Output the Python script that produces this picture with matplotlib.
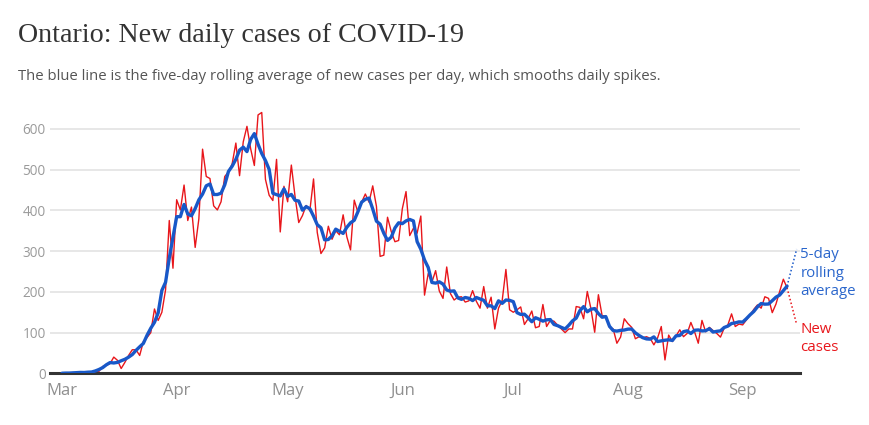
import numpy as np
import pandas as pd
import matplotlib
matplotlib.use('Agg')
import matplotlib.pyplot as plt
import matplotlib.dates as mdates

# new cases reported per day in Ontario, starting 1 March 2020
march = [0, 0, 1, 2, 1, 3, 4, 2, 1, 5, 5, 17, 20, 24, 40, 32, 12, 27, 44, 58,
         58, 44, 78, 88, 100, 158, 130, 150, 205, 375, 258]
april = [426, 401, 462, 375, 408, 309, 379, 550, 483, 478, 411, 401, 421, 483, 494,
         514, 565, 485, 568, 606, 551, 510, 634, 640, 476, 437, 424, 525, 347, 459]
may = [421, 511, 434, 370, 387, 412, 399, 477, 346, 294, 308, 361, 329, 350, 340,
       389, 335, 303, 425, 395, 420, 440, 420, 460, 410, 287, 290, 383, 348, 323, 326]
june = [404, 446, 338, 356, 344, 386, 192, 245, 224, 252, 202, 184, 261, 196, 180,
        187, 188, 175, 178, 203, 177, 160, 213, 160, 187, 109, 160, 179, 255, 156]
july = [150, 156, 163, 120, 134, 153, 112, 115, 169, 115, 130, 128, 118, 109, 100,
        109, 109, 164, 162, 134, 201, 158, 101, 193, 142, 140, 113, 109, 74, 89, 134]
august = [122, 113, 85, 90, 87, 90, 86, 70, 87, 115, 33, 94, 78, 92, 107, 90,
          98, 125, 102, 74, 130, 102, 113, 105, 98, 89, 111, 119, 146, 115, 121]
september = [119, 131, 143, 157, 168, 160, 188, 184, 149, 170, 201, 231, 210]

new_cases = march + april + may + june + july + august + september
month_labels = ['Mar', 'Apr', 'May', 'Jun', 'Jul', 'Aug', 'Sep']
y_ticks = [0, 100, 200, 300, 400, 500, 600]

dates = pd.date_range('2020-03-01', periods=len(new_cases), freq='D')
cases = pd.Series(new_cases, index=dates)
# the chart's blue line: centred five-day rolling average
rolling = cases.rolling(5, center=True, min_periods=1).mean()

RED = '#e8161b'
BLUE = '#1858c8'

fig = plt.figure(figsize=(8.7, 4.25), dpi=100)
ax = fig.add_axes([50 / 870, 1 - 373.4 / 425, 750 / 870, 265 / 425])

ax.plot(dates, cases.values, color=RED, lw=1.0, zorder=3)
ax.plot(dates, rolling.values, color=BLUE, lw=2.4, zorder=4, solid_capstyle='round')

# leader lines to the labels on the right
last = dates[-1]
lead = last + pd.Timedelta(days=2.6)
ax.plot([last, lead], [rolling.values[-1], 305], color=BLUE, lw=1.1, ls=(0, (1, 1.5)), clip_on=False)
ax.plot([last, lead], [cases.values[-1], 120], color=RED, lw=1.1, ls=(0, (1, 1.5)), clip_on=False)
lab_x = last + pd.Timedelta(days=3.6)
ax.text(lab_x, 310, '5-day\nrolling\naverage', color='#2a66cc', fontsize=10.8,
        family='Open Sans', va='top', ha='left', linespacing=1.32, clip_on=False)
ax.text(lab_x, 127, 'New\ncases', color=RED, fontsize=10.8,
        family='Open Sans', va='top', ha='left', linespacing=1.32, clip_on=False)

start = dates[0]
ax.set_xlim(start - pd.Timedelta(days=3.24), start + pd.Timedelta(days=199.5))
ax.set_ylim(0, 650)
ax.set_yticks(y_ticks)
ax.set_yticklabels([str(v) for v in y_ticks], family='Open Sans', fontsize=9.8, color='#9a9a9a')
ax.set_xticks(pd.date_range('2020-03-01', periods=len(month_labels), freq='MS'))
ax.set_xticklabels(month_labels, family='Open Sans', fontsize=12, color='#8f8f8f')
ax.tick_params(axis='both', length=0)
ax.tick_params(axis='y', pad=3)
ax.tick_params(axis='x', pad=7)

ax.grid(axis='y', color='#e3e3e3', lw=1.2)
ax.set_axisbelow(True)
for side in ['top', 'right', 'left']:
    ax.spines[side].set_visible(False)
ax.spines['bottom'].set_color('#333333')
ax.spines['bottom'].set_linewidth(2.2)

fig.text(18 / 870, 1 - 42 / 425, 'Ontario: New daily cases of COVID-19', family='Liberation Serif',
         fontsize=20.2, color='#333333', va='baseline')
fig.text(18 / 870, 1 - 80 / 425,
         'The blue line is the five-day rolling average of new cases per day, which smooths daily spikes.',
         family='Open Sans', fontsize=10.7, color='#555555', va='baseline')

fig.savefig('out.png', dpi=100)
